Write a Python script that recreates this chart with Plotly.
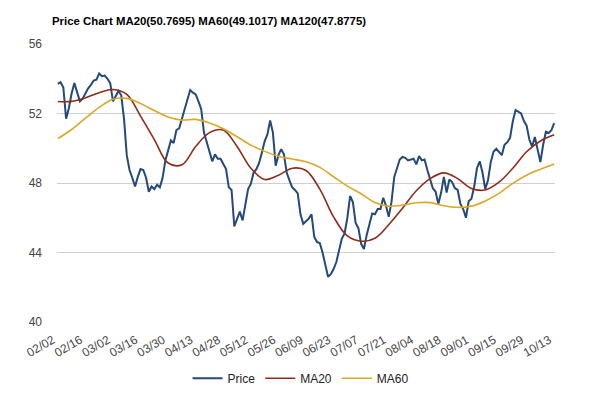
import plotly.graph_objects as go

tick_labels = ["02/02", "02/16", "03/02", "03/16", "03/30", "04/13", "04/28", "05/12",
               "05/26", "06/09", "06/23", "07/07", "07/21", "08/04", "08/18", "09/01",
               "09/15", "09/29", "10/13"]

price = [53.7, 53.8, 53.5, 51.7, 52.3, 53.15, 53.75, 53.2, 52.7, 52.85,
         53.15, 53.45, 53.65, 53.9, 53.95, 54.3, 54.15, 54.18, 54.0, 53.75,
         52.7, 53.05, 53.3, 53.05, 51.7, 49.6, 48.75, 48.3, 47.8, 48.35,
         48.8, 48.75, 48.3, 47.5, 47.8, 47.65, 47.9, 47.75, 48.3, 49.3,
         49.95, 50.45, 50.3, 51.05, 51.15, 51.7, 52.3, 52.9, 53.35, 53.2,
         53.1, 52.7, 52.25, 50.9, 50.3, 49.75, 49.25, 49.65, 49.4, 49.4,
         49.1, 48.8, 47.75, 47.6, 45.5, 45.9, 46.35, 45.85, 46.8, 47.65,
         47.95, 48.6, 48.8, 49.15, 49.75, 50.4, 50.8, 51.6, 50.9, 49.0,
         49.6, 49.95, 49.65, 48.6, 48.15, 47.75, 47.6, 47.4, 46.2, 45.65,
         45.8, 45.95, 46.2, 44.9, 44.6, 44.55, 44.0, 43.3, 42.6, 42.75,
         43.05, 43.45, 44.1, 44.8, 45.1, 46.0, 47.25, 46.9, 45.7, 45.4,
         44.5, 44.2, 45.0, 45.6, 46.25, 46.2, 46.5, 46.5, 47.15, 46.7,
         46.05, 46.9, 48.35, 48.85, 49.35, 49.5, 49.45, 49.3, 49.35, 49.4,
         49.07, 49.55, 49.3, 49.35, 48.75, 48.2, 47.7, 47.5, 46.8, 47.45,
         48.35, 47.45, 48.2, 48.05, 47.7, 47.6, 46.8, 46.5, 46.0, 46.95,
         47.1, 47.8, 48.85, 49.25, 48.6, 47.65, 48.15, 49.2, 49.8, 49.97,
         49.75, 49.6, 50.2, 50.35, 50.6, 51.55, 52.2, 52.1, 52.0, 51.58,
         51.3, 50.5, 50.1, 50.65, 49.95, 49.2, 50.2, 50.95, 50.88, 51.04,
         51.45]

ma_days = [0, 5, 10, 15, 20, 25, 30, 35, 40, 45, 50, 55, 60, 65, 70, 75, 80, 85, 90,
           95, 100, 105, 110, 115, 120, 125, 130, 135, 140, 145, 150, 155, 160, 165,
           170, 175, 180]

ma20 = [52.69, 52.7, 52.9, 53.2, 53.38, 53.1, 51.85, 50.5, 49.15, 49.05,
        50.1, 50.9, 51.05, 50.1, 48.85, 48.2, 48.45, 48.85, 48.72, 47.65,
        46.05, 44.95, 44.65, 44.82, 45.6, 46.55, 47.55, 48.25, 48.58, 48.25,
        47.68, 47.6, 48.05, 48.85, 49.8, 50.42, 50.77]

ma60 = [50.55, 51.08, 51.73, 52.35, 52.82, 52.87, 52.57, 52.17, 51.8, 51.62,
        51.66, 51.45, 51.12, 50.66, 50.18, 49.82, 49.54, 49.38, 49.22, 48.9,
        48.36, 47.82, 47.38, 46.88, 46.67, 46.73, 46.86, 46.87, 46.69, 46.6,
        46.67, 46.97, 47.4, 47.98, 48.45, 48.79, 49.1]

y_ticks = [40, 44, 48, 52, 56]

days = list(range(len(price)))
tick_days = list(range(0, len(price), 10))

FONT = "Liberation Sans, Arial, sans-serif"

fig = go.Figure()
fig.add_trace(go.Scatter(x=days, y=price, mode="lines", name="Price",
                         line=dict(color="#24497a", width=2)))
fig.add_trace(go.Scatter(x=ma_days, y=ma20, mode="lines", name="MA20",
                         line=dict(color="#8e2c1c", width=1.6, shape="spline")))
fig.add_trace(go.Scatter(x=ma_days, y=ma60, mode="lines", name="MA60",
                         line=dict(color="#d8a928", width=1.6, shape="spline")))

fig.update_layout(
    width=600, height=397,
    margin=dict(l=49, r=53, t=36, b=63),
    paper_bgcolor="white", plot_bgcolor="white",
    font=dict(family=FONT, size=12, color="#444444"),
    title=dict(text="<b>Price Chart MA20(50.7695) MA60(49.1017) MA120(47.8775)</b>",
               x=44/600, xanchor="left", y=1 - 13/397, yanchor="middle",
               font=dict(family=FONT, size=11.4, color="#000000")),
    showlegend=True,
    legend=dict(orientation="h", x=0.49, xanchor="center", xref="paper",
                y=-0.15, yanchor="top", font=dict(size=12, color="#222222"),
                itemwidth=30, bgcolor="rgba(0,0,0,0)"),
    hovermode=False,
)
fig.update_xaxes(range=[-0.3, 180.3], tickmode="array", tickvals=tick_days,
                 ticktext=tick_labels, tickangle=-30, showgrid=False,
                 zeroline=False, showline=False, ticks="",
                 ticklabelshift=-5, ticklabelstandoff=8,
                 tickfont=dict(size=12, color="#444444"))
fig.update_yaxes(range=[40, 56], tickmode="array", tickvals=y_ticks,
                 showgrid=True, gridcolor="#d0d0d0", gridwidth=1,
                 zeroline=False, showline=False, ticks="",
                 ticklabelstandoff=14,
                 tickfont=dict(size=12, color="#444444"))

fig.write_html("out.html")
